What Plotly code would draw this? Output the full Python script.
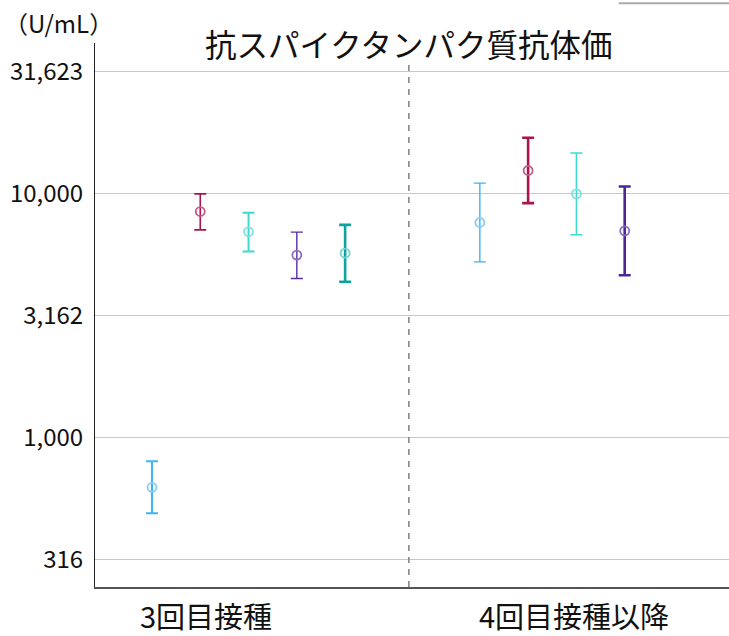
import plotly.graph_objects as go

# ---- data ----
groups = ["3回目接種", "4回目接種以降"]
series_colors_g1 = ["#3db4f5", "#a8164f", "#3ed8d2", "#5a2ca0", "#0fa39d"]
marker_colors_g1 = ["#86cdf8", "#c45a86", "#7ae3de", "#8b6cc2", "#6fd3cf"]
series_colors_g2 = ["#3db4f5", "#a8164f", "#3ed8d2", "#4e2595"]
marker_colors_g2 = ["#86cdf8", "#c45a86", "#7ae3de", "#8b6cc2"]

g1_values = [627, 8460, 6990, 5610, 5715]
g1_upper = [803, 10000, 8360, 6970, 7460]
g1_lower = [491, 7120, 5800, 4500, 4360]
g1_thick = [2, 1.6, 2, 1.4, 2.6]

g2_values = [7630, 12460, 10000, 7050]
g2_upper = [11060, 16970, 14690, 10710]
g2_lower = [5260, 9160, 6790, 4640]
g2_thick = [1.4, 2.6, 1.5, 2.6]

y_tickvals = [316.23, 1000, 3162.3, 10000, 31623]
y_ticktext = ["316", "1,000", "3,162", "10,000", "31,623"]

title_text = "抗スパイクタンパク質抗体価"
unit_text = "（U/mL）"

FONT = "Noto Sans CJK JP"

# ---- layout positions (x in slot units) ----
g1_start = 0.0
g2_start = 6.79
divider_x = 5.32
label_x = [1.12, 8.74]
x_range = [-1.18, 11.95]

fig = go.Figure()

def add_group(start, vals, ups, lows, cols, mcols, thick):
    for i, v in enumerate(vals):
        fig.add_trace(go.Scatter(
            x=[start + i], y=[v], mode="markers",
            marker=dict(symbol="circle-open", size=9, color=mcols[i],
                        line=dict(width=1.8, color=mcols[i])),
            error_y=dict(type="data", symmetric=False,
                         array=[ups[i] - v], arrayminus=[v - lows[i]],
                         color=cols[i], thickness=thick[i], width=6),
            showlegend=False, hoverinfo="skip"))

add_group(g1_start, g1_values, g1_upper, g1_lower,
          series_colors_g1, marker_colors_g1, g1_thick)
add_group(g2_start, g2_values, g2_upper, g2_lower,
          series_colors_g2, marker_colors_g2, g2_thick)

fig.update_layout(
    width=729, height=636,
    margin=dict(l=95, r=0, t=43, b=46),
    paper_bgcolor="white", plot_bgcolor="white",
    font=dict(family=FONT, color="#111111"),
    xaxis=dict(range=x_range, showgrid=False, zeroline=False,
               showline=True, linecolor="#555555", linewidth=2,
               tickvals=label_x, ticktext=groups, ticks="",
               tickfont=dict(size=29, family=FONT, color="#111111"),
               ticklabelstandoff=4),
    yaxis=dict(type="log", range=[2.389, 4.618],
               tickvals=y_tickvals, ticktext=y_ticktext,
               showgrid=True, gridcolor="#c8c8c8", gridwidth=1,
               zeroline=False, showline=True, linecolor="#222222", linewidth=1,
               ticks="", tickfont=dict(size=24, family=FONT, color="#111111"),
               ticklabelstandoff=6),
    shapes=[
        dict(type="line", xref="x", yref="paper", x0=divider_x, x1=divider_x,
             y0=0, y1=0.96, line=dict(color="#808080", width=1.5, dash="6px,6px")),
        dict(type="line", xref="paper", yref="paper", x0=0.826, x1=1.0,
             y0=1.073, y1=1.073, line=dict(color="#aaaaaa", width=2)),
    ],
    annotations=[
        dict(text=title_text, xref="paper", yref="paper", x=0.495, y=1.0,
             xanchor="center", yanchor="middle", showarrow=False,
             font=dict(size=31.5, family=FONT, color="#111111")),
        dict(text=unit_text, xref="paper", yref="paper", x=-0.058, y=1.037,
             xanchor="center", yanchor="middle", showarrow=False,
             font=dict(size=24, family=FONT, color="#111111")),
    ],
)

fig.write_html("out.html", config={"displayModeBar": False},
               post_script="document.body.style.margin='0';")
